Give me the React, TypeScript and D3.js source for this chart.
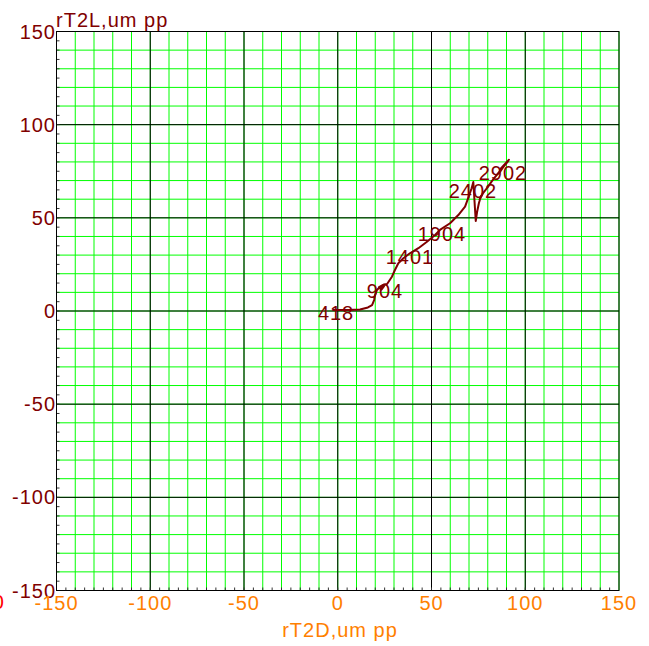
import React from "react";
import * as d3 from "d3";

const W = 649;
const H = 646;

const tickValues = [-150, -100, -50, 0, 50, 100, 150];
const majorGrid = [-100, -50, 0, 50, 100];

const curveX = [-2.5, 5.5, 11.9, 16.1, 18.3, 19.4, 19.9, 20.9, 22.5, 24.7, 23.3, 22.0, 24.5, 26.3, 28.9, 30.5, 32.3, 35.0, 38.5, 43.0, 47.4, 51.9, 54.5, 59.9, 64.3, 67.9, 69.6, 71.4, 72.3, 73.6, 74.3, 75.3, 76.4, 75.6, 77.5, 80.1, 82.3, 84.4, 86.5, 88.7, 90.8, 86.5, 90.3, 83.9, 89.7, 85.5, 91.0, 87.0, 91.3];
const curveY = [0.5, 0.5, 0.8, 1.9, 3.2, 5.9, 8.6, 11.3, 12.9, 13.4, 11.5, 12.8, 14.2, 14.5, 18.4, 22.0, 25.6, 28.3, 31.0, 33.7, 37.0, 40.8, 43.5, 47.1, 51.5, 56.0, 60.7, 65.9, 69.2, 48.3, 53.1, 58.0, 61.7, 59.6, 63.3, 66.6, 69.8, 72.5, 74.7, 77.8, 80.5, 75.7, 80.0, 71.9, 79.2, 73.8, 80.6, 76.5, 81.2];

const rpmLabels = ["418", "904", "1401", "1904", "2402", "2902"];
const rpmX = [-0.9, 25.2, 38.5, 55.6, 72.1, 88.1];
const rpmY = [-1.1, 10.7, 29.0, 41.1, 64.4, 74.1];

const xTitle = "rT2D,um pp";
const yTitle = "rT2L,um pp";

export default function App() {
  const x = d3.scaleLinear().domain([-150, 150]).range([56.5, 619]);
  const y = d3.scaleLinear().domain([-150, 150]).range([590.5, 31.5]);
  const minor = d3.range(-150, 151, 10);
  const ticks5 = d3.range(-145, 150, 5);
  const pts: [number, number][] = curveX.map((v, i) => [v, curveY[i]]);
  const line = d3
    .line<[number, number]>()
    .x((d) => x(d[0]))
    .y((d) => y(d[1]));
  const font = "'Liberation Sans', Arial, sans-serif";
  const dark = "#800000";
  const orange = "#ff8000";
  return (
    <svg
      width={W}
      height={H}
      style={{ position: "absolute", left: 0, top: 0, background: "#fff" }}
    >
      <rect x={0} y={0} width={W} height={H} fill="#fff" />
      {minor.map((v) => (
        <g key={"g" + v}>
          <line x1={x(v)} x2={x(v)} y1={y(150)} y2={y(-150)} stroke="#00ff00" strokeWidth={1} />
          <line x1={x(-150)} x2={x(150)} y1={y(v)} y2={y(v)} stroke="#00ff00" strokeWidth={1} />
        </g>
      ))}
      {majorGrid.map((v) => (
        <g key={"m" + v}>
          <line x1={x(v)} x2={x(v)} y1={y(150)} y2={y(-150)} stroke="#000" strokeWidth={1} />
          <line x1={x(-150)} x2={x(150)} y1={y(v)} y2={y(v)} stroke="#000" strokeWidth={1} />
        </g>
      ))}
      {ticks5.map((v) => (
        <g key={"t" + v}>
          <line x1={x(v)} x2={x(v)} y1={y(-150)} y2={y(-150) - 3} stroke="#333" strokeWidth={1} />
          <line x1={x(-150)} x2={x(-150) + 3} y1={y(v)} y2={y(v)} stroke="#333" strokeWidth={1} />
        </g>
      ))}
      <rect
        x={x(-150)}
        y={y(150)}
        width={x(150) - x(-150)}
        height={y(-150) - y(150)}
        fill="none"
        stroke="#000"
        strokeWidth={1}
      />
      <path d={line(pts) || ""} fill="none" stroke={dark} strokeWidth={2} strokeLinejoin="round" strokeLinecap="round" />
      {rpmLabels.map((t, i) => (
        <text
          key={"r" + t}
          x={x(rpmX[i])}
          y={y(rpmY[i]) + 7}
          textAnchor="middle"
          fontFamily={font}
          fontSize={20}
          letterSpacing={1}
          fill={dark}
        >
          {t}
        </text>
      ))}
      {tickValues.map((v) => (
        <text
          key={"yl" + v}
          x={x(-150) - 0.5}
          y={y(v) + 7}
          textAnchor="end"
          fontFamily={font}
          fontSize={20}
          letterSpacing={1}
          fill={dark}
        >
          {v}
        </text>
      ))}
      {tickValues.map((v) => (
        <text
          key={"xl" + v}
          x={x(v)}
          y={610}
          textAnchor="middle"
          fontFamily={font}
          fontSize={20}
          letterSpacing={1}
          fill={orange}
        >
          {v}
        </text>
      ))}
      <text x={5} y={609} textAnchor="end" fontFamily={font} fontSize={20} letterSpacing={1} fill="#ff0000">
        150
      </text>
      <text x={56} y={26.5} fontFamily={font} fontSize={20} letterSpacing={1} fill={dark}>
        {yTitle}
      </text>
      <text x={340} y={637} textAnchor="middle" fontFamily={font} fontSize={20} letterSpacing={1} fill={orange}>
        {xTitle}
      </text>
    </svg>
  );
}
